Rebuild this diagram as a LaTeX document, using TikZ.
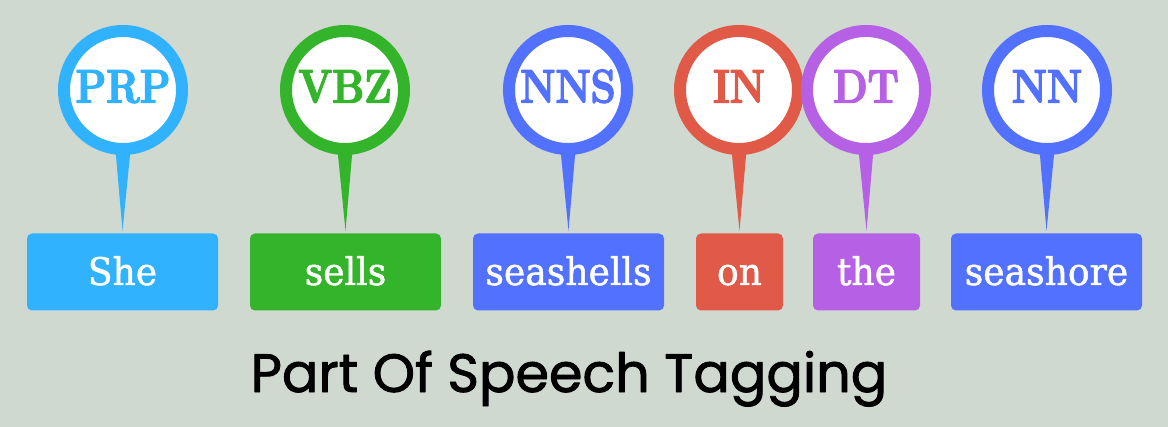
\documentclass[tikz,border=0pt]{standalone}
\usepackage{fontspec}
\newfontfamily\titlefont[FakeBold=1.6]{Poppins}
\newfontfamily\wordfont[FakeStretch=0.95,FakeBold=1.2]{DejaVu Serif}
\newfontfamily\tagfont[FakeStretch=0.85,FakeBold=3]{Latin Modern Roman}
\usetikzlibrary{shapes}

\definecolor{bgcol}{RGB}{207,217,208}
\definecolor{prpcol}{RGB}{48,178,255}
\definecolor{vbzcol}{RGB}{51,180,42}
\definecolor{nncol}{RGB}{82,113,255}
\definecolor{incol}{RGB}{224,90,71}
\definecolor{dtcol}{RGB}{181,96,229}

\begin{document}
\begin{tikzpicture}[line join=bevel,
  tagring/.style={circle,draw=#1,fill=white,line width=12bp,minimum size=118bp,inner sep=0pt,
    text=#1,font=\tagfont\bfseries\fontsize{47bp}{47bp}\selectfont,text height=32bp,text depth=7bp},
  wordbox/.style={rectangle,rounded corners=5bp,fill=#1,text=white,minimum height=77bp,inner sep=0pt,
    font=\wordfont\fontsize{38bp}{38bp}\selectfont,text height=28bp,text depth=2bp},
  pin/.style={fill=#1}]
\fill[bgcol] (0bp,0bp) rectangle (1168bp,427bp);
\useasboundingbox (0bp,0bp) rectangle (1168bp,427bp);

% Node: PRP
\node[tagring=prpcol] (prp) at (123bp,337bp) {PRP};
% Node: She
\node[wordbox=prpcol,minimum width=191bp] (she) at (122.5bp,155bp) {She};
% Edge: PRP -> She
\fill[pin=prpcol] ([xshift=-7.5bp,yshift=5bp]prp.south) -- ([xshift=7.5bp,yshift=5bp]prp.south) -- ([yshift=2.5bp]she.north) -- cycle;

% Node: VBZ
\node[tagring=vbzcol] (vbz) at (345bp,337bp) {VBZ};
% Node: sells
\node[wordbox=vbzcol,minimum width=191bp] (sells) at (345.5bp,155bp) {sells};
% Edge: VBZ -> sells
\fill[pin=vbzcol] ([xshift=-7.5bp,yshift=5bp]vbz.south) -- ([xshift=7.5bp,yshift=5bp]vbz.south) -- ([yshift=2.5bp]sells.north) -- cycle;

% Node: NNS
\node[tagring=nncol] (nns) at (568bp,337bp) {NNS};
% Node: seashells
\node[wordbox=nncol,minimum width=191bp] (seashells) at (568.5bp,155bp) {seashells};
% Edge: NNS -> seashells
\fill[pin=nncol] ([xshift=-7.5bp,yshift=5bp]nns.south) -- ([xshift=7.5bp,yshift=5bp]nns.south) -- ([yshift=2.5bp]seashells.north) -- cycle;

% Node: IN
\node[tagring=incol] (in) at (739bp,337bp) {IN};
% Node: on
\node[wordbox=incol,minimum width=87bp] (on) at (739.5bp,155bp) {on};
% Edge: IN -> on
\fill[pin=incol] ([xshift=-7.5bp,yshift=5bp]in.south) -- ([xshift=7.5bp,yshift=5bp]in.south) -- ([yshift=2.5bp]on.north) -- cycle;

% Node: DT
\node[tagring=dtcol] (dt) at (866bp,337bp) {DT};
% Node: the
\node[wordbox=dtcol,minimum width=107bp] (the) at (866.5bp,155bp) {the};
% Edge: DT -> the
\fill[pin=dtcol] ([xshift=-7.5bp,yshift=5bp]dt.south) -- ([xshift=7.5bp,yshift=5bp]dt.south) -- ([yshift=2.5bp]the.north) -- cycle;

% Node: NN
\node[tagring=nncol] (nn) at (1047bp,337bp) {NN};
% Node: seashore
\node[wordbox=nncol,minimum width=191bp] (seashore) at (1046.5bp,155bp) {seashore};
% Edge: NN -> seashore
\fill[pin=nncol] ([xshift=-7.5bp,yshift=5bp]nn.south) -- ([xshift=7.5bp,yshift=5bp]nn.south) -- ([yshift=2.5bp]seashore.north) -- cycle;

% Node: title
\node[anchor=base,font=\titlefont\fontsize{54bp}{54bp}\selectfont] (title) at (569bp,35bp) {Part Of Speech Tagging};

\end{tikzpicture}
\end{document}
